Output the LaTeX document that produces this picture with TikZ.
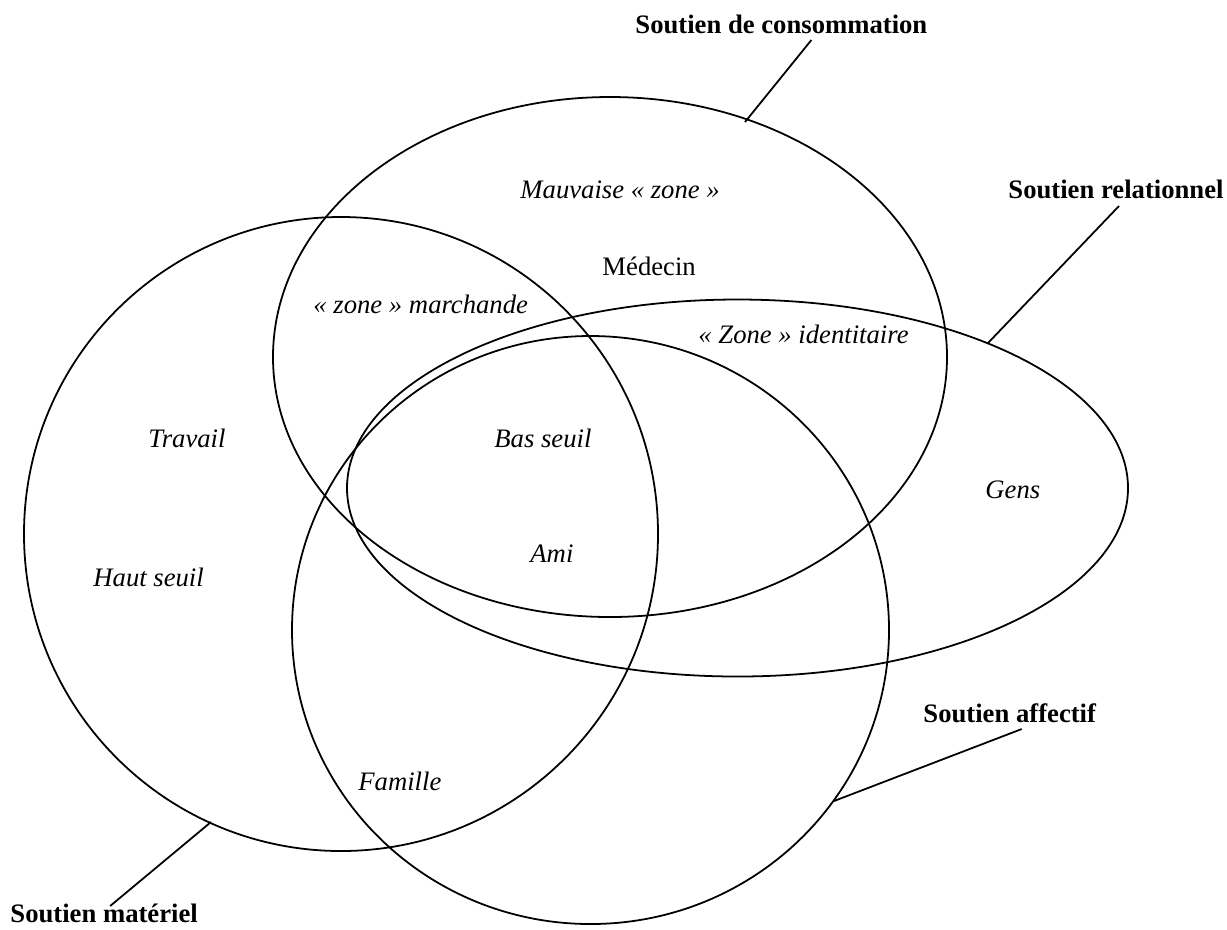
\documentclass[tikz,border=0pt]{standalone}
\usepackage{fontspec}
\setmainfont{Liberation Serif}
\usetikzlibrary{calc}

\begin{document}
\begin{tikzpicture}[x=0.45pt, y=-0.45pt,
		support/.style={font=\fontsize{12}{14}\selectfont\bfseries, inner sep=0pt, anchor=base west},
		zonetext/.style={font=\fontsize{12}{14}\selectfont\itshape, inner sep=0pt, anchor=base west},
		plaintext/.style={font=\fontsize{12}{14}\selectfont, inner sep=0pt, anchor=base west},
		ring/.style={line width=0.8pt},
		leader/.style={line width=0.8pt}]
		%%%%% START %%%%%
		
		\useasboundingbox (0,0) rectangle (1227,929);
		
		% the four kinds of support
		\draw[ring] (341, 534) ellipse [x radius=317, y radius=317];
		\draw[ring] (610, 357) ellipse [x radius=337, y radius=260];
		\draw[ring] (737.5, 488) ellipse [x radius=390.5, y radius=188.5];
		\draw[ring] (590.5, 630) ellipse [x radius=298.5, y radius=294];
		
		% labels
		\node[support] (consLabel) at (635, 33) {Soutien de consommation};
		\node[support] (relLabel) at (1008, 198) {Soutien relationnel};
		\node[support] (affLabel) at (923, 722) {Soutien affectif};
		\node[support] (matLabel) at (10, 922) {Soutien matériel};
		
		\coordinate (consEnd) at (745, 122);
		\coordinate (relEnd) at (988, 343);
		\coordinate (affEnd) at (834, 801);
		\coordinate (matEnd) at (211, 822);
		
		\draw[leader] ($(consLabel.base)+(30,7)$) -- (consEnd);
		\draw[leader] ($(relLabel.base)+(3,8)$) -- (relEnd);
		\draw[leader] ($(affLabel.base)+(12,7)$) -- (affEnd);
		\draw[leader] ($(matLabel.base)+(6,-16)$) -- (matEnd);
		
		% zones
		\node[zonetext] (mauvaise) at (520, 198) {Mauvaise « zone »};
		\node[plaintext] (medecin) at (602, 275) {Médecin};
		\node[zonetext] (marchande) at (313, 313) {« zone » marchande};
		\node[zonetext] (identitaire) at (698, 343) {« Zone » identitaire};
		\node[zonetext] (gens) at (985, 498) {Gens};
		\node[zonetext] (travail) at (148, 447) {Travail};
		\node[zonetext] (basseuil) at (494, 447) {Bas seuil};
		\node[zonetext] (ami) at (530, 562) {Ami};
		\node[zonetext] (hautseuil) at (93, 586) {Haut seuil};
		\node[zonetext] (famille) at (358, 790) {Famille};
		
		%%%%% END %%%%%
\end{tikzpicture}
\end{document}
